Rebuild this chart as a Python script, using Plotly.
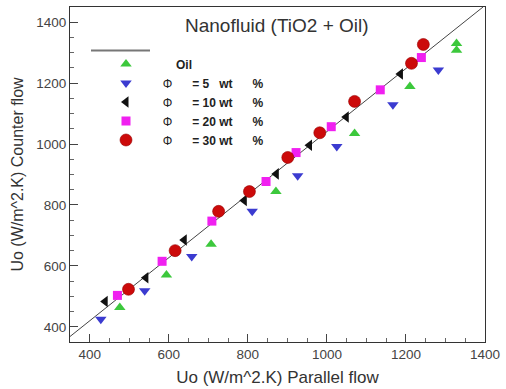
import plotly.graph_objects as go

# Overall heat transfer coefficient, parallel flow (x) vs counter flow (y)
oil_x = [476, 594, 707, 871, 1070, 1210, 1328, 1328]
oil_y = [463, 570, 671, 844, 1035, 1189, 1330, 1308]

phi5_x = [428, 539, 658, 811, 926, 1025, 1167, 1282]
phi5_y = [425, 518, 631, 779, 896, 992, 1129, 1243]

phi10_x = [439, 542, 639, 791, 872, 956, 1049, 1186]
phi10_y = [483, 561, 685, 815, 902, 996, 1089, 1230]

phi20_x = [470, 583, 709, 846, 922, 1011, 1135, 1239]
phi20_y = [503, 615, 747, 877, 972, 1057, 1178, 1284]

phi30_x = [498, 616, 726, 804, 901, 982, 1070, 1214, 1244]
phi30_y = [523, 650, 779, 844, 956, 1037, 1140, 1265, 1327]

# Fitted reference line end points
fit_x = [350, 1395]
fit_y = [368, 1450]

x_ticks = [400, 600, 800, 1000, 1200, 1400]
y_ticks = [400, 600, 800, 1000, 1200, 1400]

FONT = "Liberation Sans, Arial, sans-serif"
NB = "\u00a0"


def phi_label(value):
    gap = NB * 3 if len(value) == 1 else NB
    return (NB * 5 + "\u03a6" + NB * 6 + "<b>=" + NB + value + gap
            + "wt" + NB * 6 + "%</b>")


series = [
    (oil_x, oil_y, NB * 9 + "<b>Oil</b>", "triangle-up", "#3cc83c", 10),
    (phi5_x, phi5_y, phi_label("5"), "triangle-down", "#3b3bd0", 10),
    (phi10_x, phi10_y, phi_label("10"), "triangle-left", "#111111", 10),
    (phi20_x, phi20_y, phi_label("20"), "square", "#f020f0", 9),
    (phi30_x, phi30_y, phi_label("30"), "circle", "#cc0a0a", 12),
]

fig = go.Figure()

fig.add_trace(go.Scatter(
    x=fit_x, y=fit_y, mode="lines",
    line=dict(color="#444444", width=1), showlegend=False, hoverinfo="skip",
))

for xs, ys, name, sym, col, size in series:
    fig.add_trace(go.Scatter(
        x=xs, y=ys, mode="markers", name=name,
        marker=dict(symbol=sym, color=col, size=size,
                    line=dict(width=0.6 if sym == "circle" else 0,
                              color="#990000")),
    ))

axis_common = dict(
    showgrid=False, zeroline=False, showline=True, mirror=True,
    linecolor="#333333", linewidth=1.2,
    ticks="inside", ticklen=8, tickwidth=1, tickcolor="#444444",
    tickfont=dict(family=FONT, size=13.5, color="#444444"),
    minor=dict(ticks="inside", ticklen=4, dtick=50, tickcolor="#666666", showgrid=False),
)

fig.update_xaxes(
    range=[350, 1400], tickvals=x_ticks, ticktext=[str(v) for v in x_ticks],
    title=dict(text="Uo (W/m^2.K) Parallel flow",
               font=dict(family=FONT, size=17, color="#333333"), standoff=9),
    **axis_common,
)
fig.update_yaxes(
    range=[350, 1450], tickvals=y_ticks, ticktext=[str(v) for v in y_ticks],
    title=dict(text="Uo (W/m^2.K) Counter flow",
               font=dict(family=FONT, size=16, color="#333333"), standoff=8),
    **axis_common,
)

fig.update_layout(
    width=506, height=389,
    margin=dict(l=70, r=21, t=6, b=44),
    paper_bgcolor="white", plot_bgcolor="white",
    showlegend=True,
    legend=dict(
        x=(106 - 70) / 415, y=(345 - 49) / 339, xanchor="left", yanchor="top",
        bgcolor="rgba(0,0,0,0)", borderwidth=0,
        font=dict(family=FONT, size=12, color="#222222"),
        itemsizing="trace", tracegroupgap=0,
    ),
    annotations=[dict(
        text="Nanofluid (TiO2 + Oil)", x=(277 - 70) / 415, y=(345 - 25) / 339,
        xref="paper", yref="paper", xanchor="center", yanchor="middle",
        showarrow=False,
        font=dict(family=FONT, size=19, color="#333333"),
    )],
    shapes=[dict(
        type="line", xref="paper", yref="paper",
        x0=(91 - 70) / 415, x1=(150 - 70) / 415,
        y0=(345 - 50) / 339, y1=(345 - 50) / 339,
        line=dict(color="#777777", width=2),
    )],
)

fig.write_html("out.html")
